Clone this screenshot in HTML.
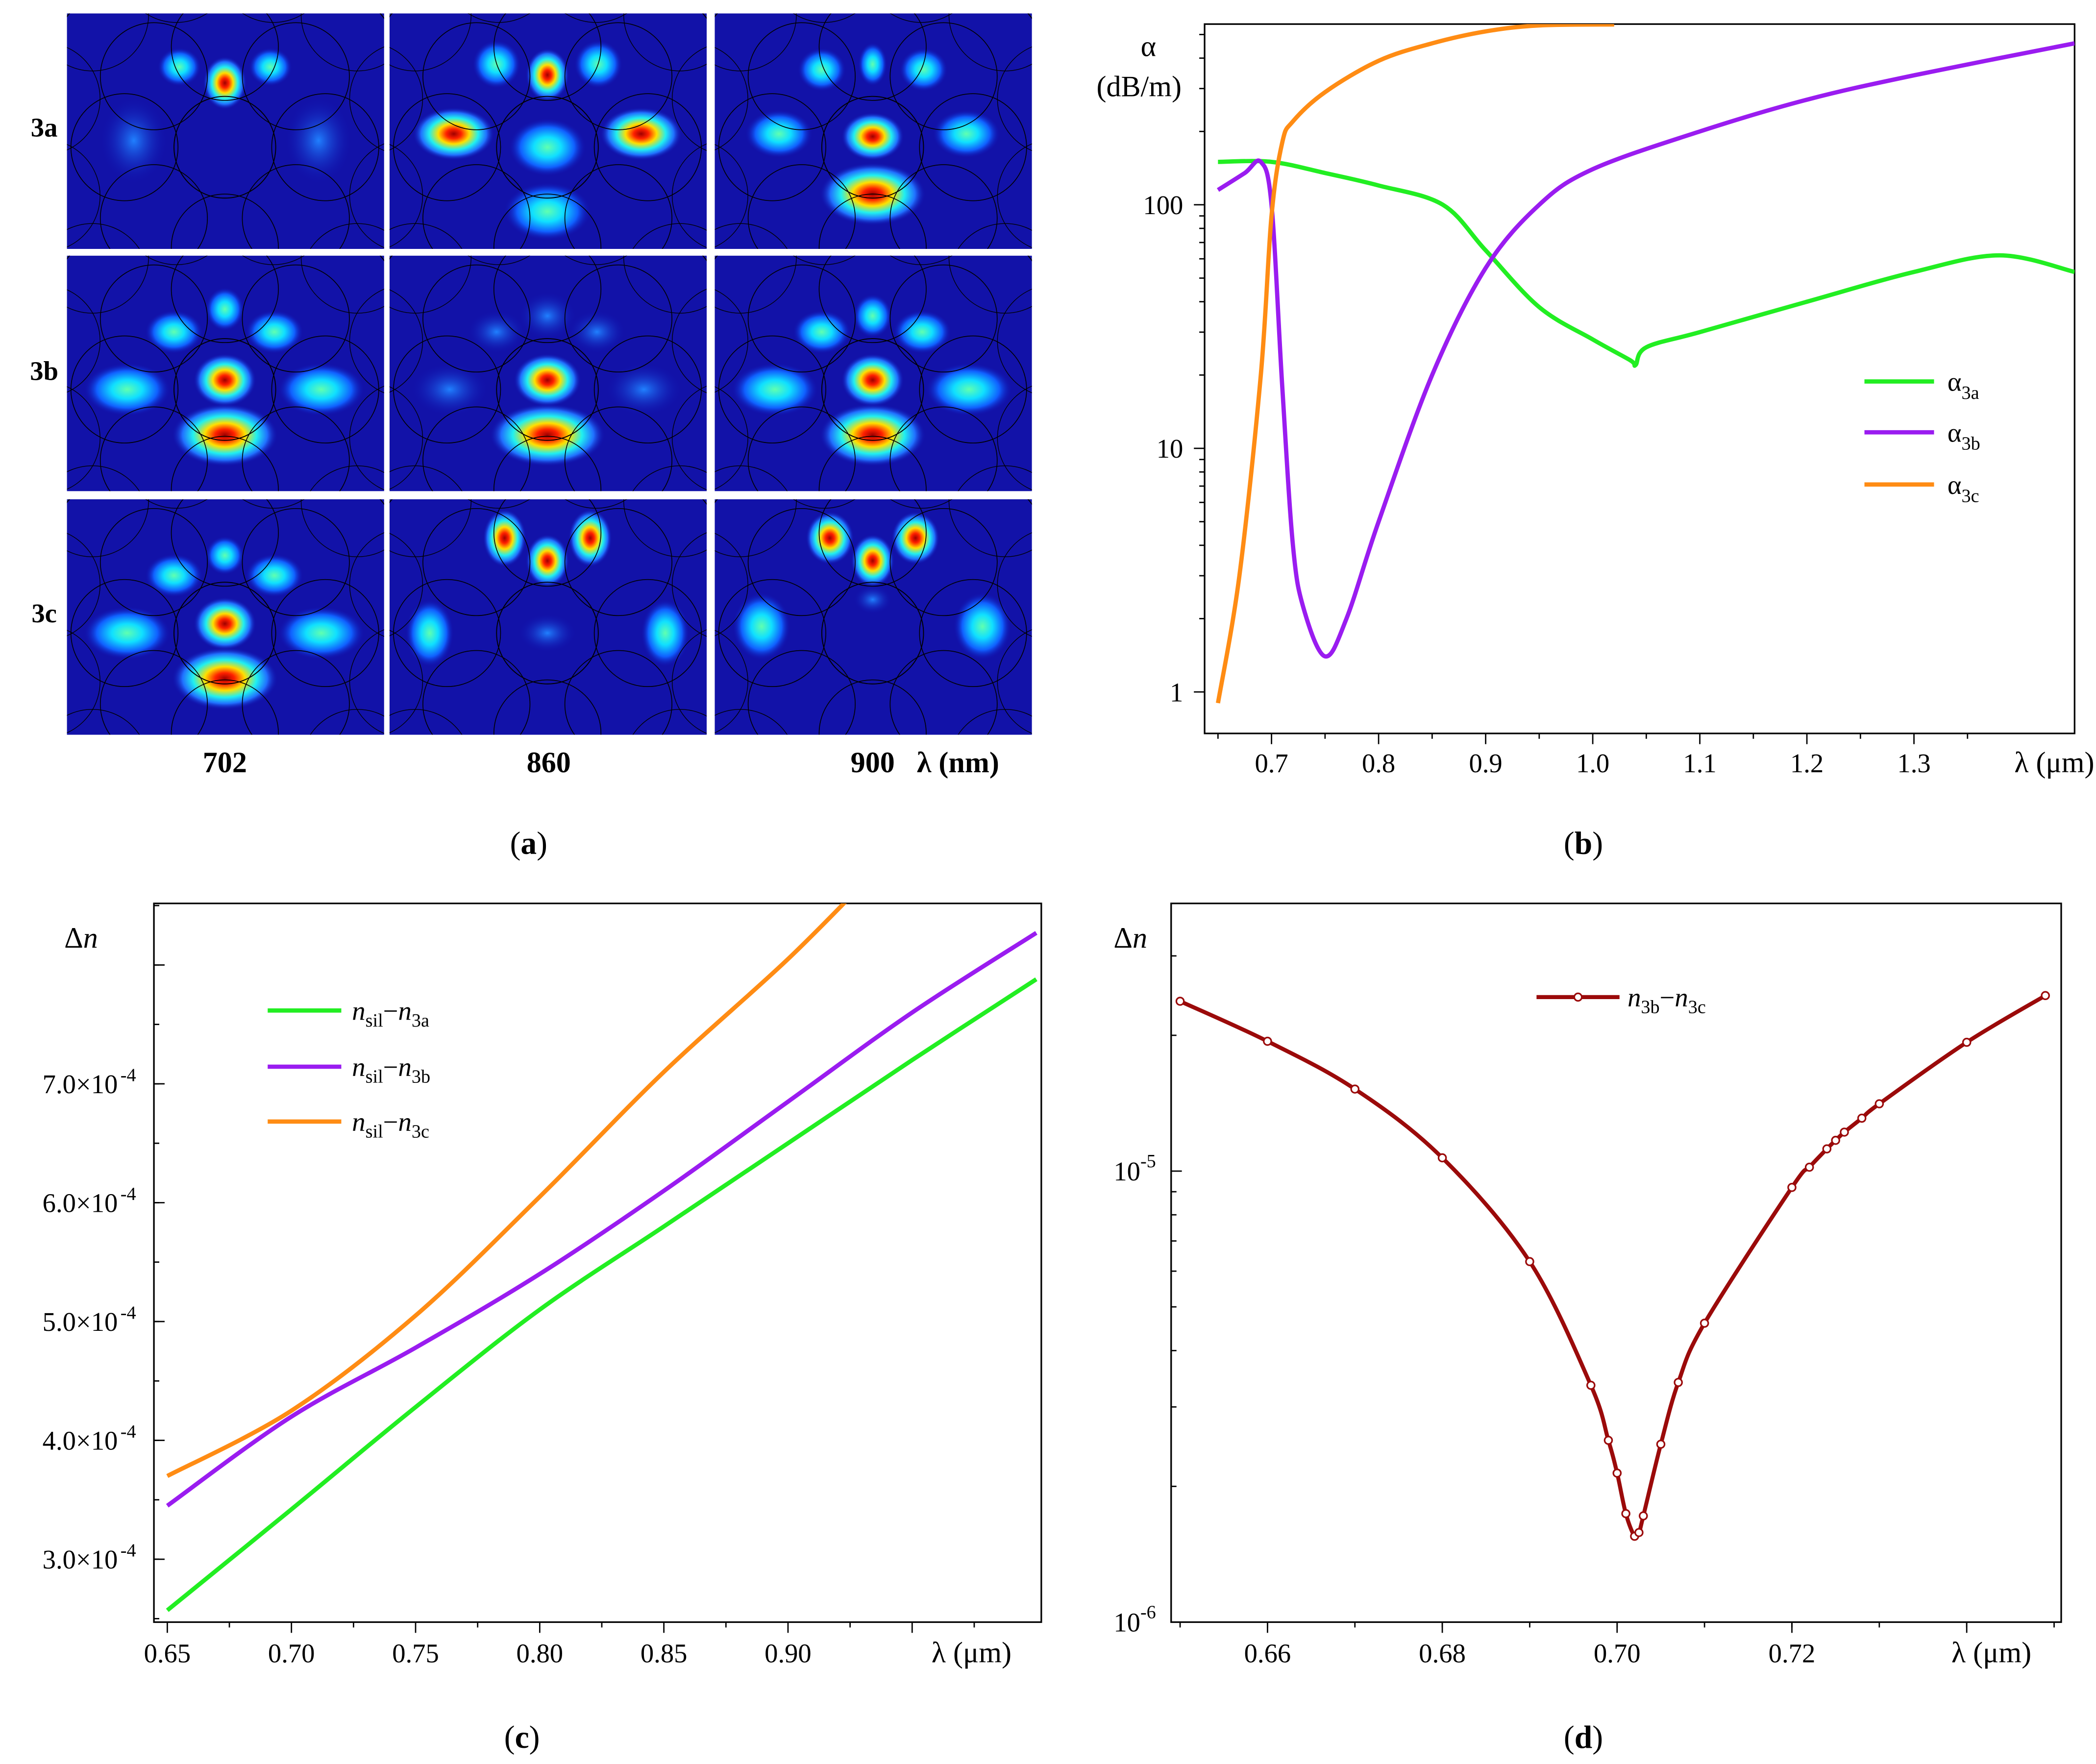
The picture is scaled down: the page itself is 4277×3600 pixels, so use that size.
<!DOCTYPE html>
<html><head><meta charset="utf-8">
<style>
html,body{margin:0;padding:0;background:#fff;}
svg{display:block;font-family:"Liberation Serif",serif;}
</style></head>
<body>
<svg id="fig" width="4277" height="3600" viewBox="0 0 1566 1318" preserveAspectRatio="none" font-family="Liberation Serif, serif" xmlns="http://www.w3.org/2000/svg">
<defs>
<radialGradient id="jet">
<stop offset="0" stop-color="#a00000"/><stop offset="0.18" stop-color="#ff2000"/><stop offset="0.38" stop-color="#ffe000"/><stop offset="0.6" stop-color="#20f0f0"/><stop offset="0.8" stop-color="#2070ff"/><stop offset="1" stop-color="#1010b0" stop-opacity="0"/>
</radialGradient>
<radialGradient id="cyan">
<stop offset="0" stop-color="#60ffb0"/><stop offset="0.35" stop-color="#10e0ff"/><stop offset="0.7" stop-color="#1060ff"/><stop offset="1" stop-color="#1010b0" stop-opacity="0"/>
</radialGradient>
<radialGradient id="dim">
<stop offset="0" stop-color="#2080ff"/><stop offset="1" stop-color="#1010b0" stop-opacity="0"/>
</radialGradient>
</defs>
<g id="pa"></g>
<g id="pb"></g>
<g id="pc"></g>
<g id="pd"></g>
</svg>
<script>
// ---------- Panel b data ----------
const bX_a=[0.65,0.70,0.75,0.80,0.86,0.90,0.95,1.00,1.035,1.04,1.05,1.10,1.20,1.30,1.38,1.45];
const bY_a=[150,150,135,120,100,65,38,28,23,22,26,30,40,53,62,53];
const bX_b=[0.65,0.675,0.69,0.70,0.71,0.72,0.73,0.75,0.77,0.80,0.85,0.90,0.95,1.00,1.10,1.20,1.30,1.45];
const bY_b=[115,135,150,100,18,4,2.2,1.4,2,5,20,55,100,140,200,270,340,460];
const bX_c=[0.65,0.67,0.69,0.70,0.71,0.72,0.75,0.80,0.85,0.90,0.95,1.02];
const bY_c=[0.9,3,20,90,180,220,290,390,460,515,545,550];
const bXTicks=[0.7,0.8,0.9,1.0,1.1,1.2,1.3];
const bXTickLabels=["0.7","0.8","0.9","1.0","1.1","1.2","1.3"];
const bYTicks=[1,10,100];
const bYTickLabels=["1","10","100"];
// ---------- Panel c data ----------
const cX=[0.65,0.70,0.75,0.80,0.85,0.90,0.95,1.00];
const cY_a=[2.57,3.42,4.28,5.1,5.8,6.5,7.2,7.88];
const cY_b=[3.45,4.2,4.78,5.4,6.1,6.85,7.6,8.27];
const cX_c=[0.65,0.70,0.75,0.80,0.85,0.90,0.937];
const cY_c=[3.7,4.25,5.05,6.05,7.1,8.05,8.83];
const cXTicks=[0.65,0.70,0.75,0.80,0.85,0.90];
const cXTickLabels=["0.65","0.70","0.75","0.80","0.85","0.90"];
const cYTicks=[3,4,5,6,7];
const cYTickLabels=["3.0×10","4.0×10","5.0×10","6.0×10","7.0×10"];
// ---------- Panel d data ----------
const dX=[0.65,0.66,0.67,0.68,0.69,0.697,0.699,0.700,0.701,0.702,0.7025,0.703,0.705,0.707,0.71,0.72,0.722,0.724,0.725,0.726,0.728,0.73,0.74,0.749];
const dY=[2.38e-5,1.94e-5,1.52e-5,1.07e-5,6.3e-6,3.35e-6,2.53e-6,2.14e-6,1.74e-6,1.55e-6,1.58e-6,1.72e-6,2.48e-6,3.4e-6,4.6e-6,9.2e-6,1.02e-5,1.12e-5,1.17e-5,1.22e-5,1.31e-5,1.41e-5,1.93e-5,2.45e-5];
const dXTicks=[0.66,0.68,0.70,0.72];
const dXTickLabels=["0.66","0.68","0.70","0.72"];

const NS="http://www.w3.org/2000/svg";
function mk(parent,tag,attrs,text){const e=document.createElementNS(NS,tag);for(const k in attrs)e.setAttribute(k,attrs[k]);if(tag==='text')e.setAttribute('font-family','Liberation Serif, serif');if(text!==undefined)e.textContent=text;parent.appendChild(e);return e;}
function smooth(pts){let d="M"+pts[0][0].toFixed(2)+","+pts[0][1].toFixed(2);for(let i=0;i<pts.length-1;i++){const p0=pts[i-1]||pts[i],p1=pts[i],p2=pts[i+1],p3=pts[i+2]||p2;const t=6;const c1=[p1[0]+(p2[0]-p0[0])/t,p1[1]+(p2[1]-p0[1])/t],c2=[p2[0]-(p3[0]-p1[0])/t,p2[1]-(p3[1]-p1[1])/t];d+=" C"+c1.map(v=>v.toFixed(2))+" "+c2.map(v=>v.toFixed(2))+" "+p2[0].toFixed(2)+","+p2[1].toFixed(2);}return d;}

// ================= Panel a =================
const pa=document.getElementById('pa');
const cols=[50,291,534], rows=[10,191,373], cw=237, ch=176;
const blobs=[
 [[[118,52,9,11,'jet'],[84,40,9,8,'cyan'],[152,40,9,8,'cyan'],[50,95,14,18,'dim'],[188,95,14,18,'dim']],
  [[118,46,9,11,'jet'],[80,38,10,10,'cyan'],[156,38,10,10,'cyan'],[48,90,17,11,'jet'],[188,90,17,11,'jet'],[118,100,16,12,'cyan'],[118,148,18,12,'cyan']],
  [[118,38,6,9,'cyan'],[80,42,10,9,'cyan'],[156,42,10,9,'cyan'],[48,90,14,10,'cyan'],[188,90,14,10,'cyan'],[118,92,13,10,'jet'],[118,135,22,13,'jet']]],
 [[[118,40,8,9,'cyan'],[80,57,12,9,'cyan'],[155,57,12,9,'cyan'],[45,100,18,11,'cyan'],[190,100,18,11,'cyan'],[118,93,13,11,'jet'],[118,134,22,13,'jet']],
  [[118,45,12,10,'dim'],[80,57,12,9,'dim'],[155,57,12,9,'dim'],[45,100,16,11,'dim'],[190,100,16,11,'dim'],[118,93,14,11,'jet'],[118,134,24,13,'jet']],
  [[118,45,8,9,'cyan'],[80,57,12,9,'cyan'],[155,57,12,9,'cyan'],[45,100,18,11,'cyan'],[190,100,18,11,'cyan'],[118,93,13,11,'jet'],[118,134,22,13,'jet']]],
 [[[118,42,8,8,'cyan'],[80,57,12,9,'cyan'],[155,57,12,9,'cyan'],[45,100,18,11,'cyan'],[190,100,18,11,'cyan'],[118,93,13,11,'jet'],[118,134,22,13,'jet']],
  [[86,29,9,12,'jet'],[150,29,9,12,'jet'],[118,46,9,11,'jet'],[30,100,10,14,'cyan'],[206,100,10,14,'cyan'],[118,100,12,8,'dim']],
  [[86,29,10,11,'jet'],[150,29,10,11,'jet'],[118,46,9,11,'jet'],[35,95,12,14,'cyan'],[200,95,12,14,'cyan'],[118,75,8,6,'dim']]]
];
for(let r=0;r<3;r++)for(let c=0;c<3;c++){
 const x0=cols[c],y0=rows[r];
 const g=mk(pa,'g',{});
 
 
 const cp=mk(pa,'clipPath',{id:'cp'+r+c});mk(cp,'rect',{x:x0,y:y0,width:cw,height:ch});
 g.setAttribute('clip-path','url(#cp'+r+c+')');
 mk(g,'rect',{x:x0,y:y0,width:cw,height:ch,fill:'#1212a8'});
 for(const b of blobs[r][c]) mk(g,'ellipse',{cx:x0+b[0],cy:y0+b[1],rx:b[2]*1.8,ry:b[3]*1.8,fill:'url(#'+b[4]+')'});
 const cx=x0+118, cy=y0+95;
 mk(g,'circle',{cx:cx,cy:cy,r:150,fill:'none',stroke:'#000','stroke-width':0.7});
 mk(g,'circle',{cx:cx,cy:cy+5,r:38,fill:'none',stroke:'#000','stroke-width':0.7});
 for(let k=0;k<8;k++){const a=k*Math.PI/4-Math.PI/2;mk(g,'circle',{cx:cx+75*Math.cos(a),cy:cy+5+75*Math.sin(a),r:40,fill:'none',stroke:'#000','stroke-width':0.6});}
 for(let k=0;k<12;k++){const a=k*Math.PI/6-Math.PI/2+Math.PI/12;mk(g,'circle',{cx:cx+140*Math.cos(a),cy:cy+5+140*Math.sin(a),r:42,fill:'none',stroke:'#000','stroke-width':0.5});}
}
[['3a',95],['3b',277],['3c',458]].forEach(([t,y])=>{const e=mk(pa,'text',{x:33,y:y+7,'font-size':20,'font-weight':'bold','text-anchor':'middle'},t);});
[['702',168],['860',410],['900',652]].forEach(([t,x])=>{const e=mk(pa,'text',{x:x,y:577,'font-size':22,'font-weight':'bold','text-anchor':'middle'},t);});
{const e=mk(pa,'text',{x:685,y:577,'font-size':22,'font-weight':'bold'},'λ (nm)');}

function panelLabel(p,x,y,l){const e=mk(p,'text',{x:x,y:y,'font-size':24,'text-anchor':'middle'});e.innerHTML='(<tspan font-weight="bold">'+l+'</tspan>)';}
panelLabel(pa,395,638,'a');

// ================= Panel b =================
const pb=document.getElementById('pb');
const bxs=v=>950+(v-0.7)*800, bys=v=>517-182*Math.log10(v);
{const e=mk(pb,'rect',{x:900,y:18,width:650,height:530,fill:'none',stroke:'#000','stroke-width':1.2});}
bXTicks.forEach((v,i)=>{mk(pb,'line',{x1:bxs(v),x2:bxs(v),y1:548,y2:556,stroke:'#000'});const e=mk(pb,'text',{x:bxs(v),y:577,'font-size':20,'text-anchor':'middle'},bXTickLabels[i]);});
for(let v=0.65;v<1.45;v+=0.1)mk(pb,'line',{x1:bxs(v),x2:bxs(v),y1:548,y2:552,stroke:'#000'});
bYTicks.forEach((v,i)=>{mk(pb,'line',{x1:892,x2:900,y1:bys(v),y2:bys(v),stroke:'#000'});const e=mk(pb,'text',{x:884,y:bys(v)+7,'font-size':20,'text-anchor':'end'},bYTickLabels[i]);});
for(let d=0;d<3;d++)for(let m=2;m<10;m++){const v=m*Math.pow(10,d);if(bys(v)>18)mk(pb,'line',{x1:896,x2:900,y1:bys(v),y2:bys(v),stroke:'#000'});}
{const e=mk(pb,'text',{x:1505,y:577,'font-size':22},'λ (μm)');}
{const e=mk(pb,'text',{x:858,y:42,'font-size':22,'text-anchor':'middle'},'α');}
{const e=mk(pb,'text',{x:851,y:72,'font-size':22,'text-anchor':'middle'},'(dB/m)');}
const cpB=mk(pb,'clipPath',{id:'cpB'});mk(cpB,'rect',{x:900,y:18,width:650,height:530});
[[bX_a,bY_a,'#22ee22','alpha-3a'],[bX_b,bY_b,'#9a1cf0','alpha-3b'],[bX_c,bY_c,'#ff8c14','alpha-3c']].forEach(([xs,ys,col,n])=>{
 const e=mk(pb,'path',{d:smooth(xs.map((x,i)=>[bxs(x),bys(ys[i])])),fill:'none',stroke:col,'stroke-width':3.2,'clip-path':'url(#cpB)'});
 });
[['#22ee22','3a',285],['#9a1cf0','3b',323],['#ff8c14','3c',362]].forEach(([col,s,y])=>{
 const g=mk(pb,'g',{});
 mk(g,'line',{x1:1393,x2:1445,y1:y,y2:y,stroke:col,'stroke-width':3.2});
 const t=mk(g,'text',{x:1455,y:y+7,'font-size':20});t.innerHTML='α<tspan font-size="14" dy="6">'+s+'</tspan>';});
panelLabel(pb,1183,638,'b');

// ================= Panel c =================
const pc=document.getElementById('pc');
const cxs=v=>125+(v-0.65)*1855, cys=v=>1165-(v-3)*88.8;
{const e=mk(pc,'rect',{x:115,y:675,width:663,height:537,fill:'none',stroke:'#000','stroke-width':1.2});}
cXTicks.forEach((v,i)=>{mk(pc,'line',{x1:cxs(v),x2:cxs(v),y1:1212,y2:1220,stroke:'#000'});const e=mk(pc,'text',{x:cxs(v),y:1242,'font-size':20,'text-anchor':'middle'},cXTickLabels[i]);});
for(let v=0.675;v<1.0;v+=0.05)mk(pc,'line',{x1:cxs(v),x2:cxs(v),y1:1212,y2:1216,stroke:'#000'});
mk(pc,'line',{x1:cxs(0.95),x2:cxs(0.95),y1:1212,y2:1220,stroke:'#000'});
cYTicks.forEach((v,i)=>{mk(pc,'line',{x1:115,x2:123,y1:cys(v),y2:cys(v),stroke:'#000'});const e=mk(pc,'text',{x:88,y:cys(v)+7,'font-size':20,'text-anchor':'end'},cYTickLabels[i]);const s=mk(pc,'text',{x:90,y:cys(v)-2,'font-size':14},'-4');});
mk(pc,'line',{x1:115,x2:123,y1:cys(8),y2:cys(8),stroke:'#000'});
for(let v=2.5;v<8.8;v+=0.5)mk(pc,'line',{x1:115,x2:119,y1:cys(v),y2:cys(v),stroke:'#000'});
{const e=mk(pc,'text',{x:696,y:1242,'font-size':22},'λ (μm)');}
{const e=mk(pc,'text',{x:48,y:708,'font-size':22});e.innerHTML='Δ<tspan font-style="italic">n</tspan>';}
const cpC=mk(pc,'clipPath',{id:'cpC'});mk(cpC,'rect',{x:115,y:675,width:663,height:537});
[[cX,cY_a,'#22ee22','n-3a'],[cX,cY_b,'#9a1cf0','n-3b'],[cX_c,cY_c,'#ff8c14','n-3c']].forEach(([xs,ys,col,n])=>{
 const e=mk(pc,'path',{d:smooth(xs.map((x,i)=>[cxs(x),cys(ys[i])])),fill:'none',stroke:col,'stroke-width':3.2,'clip-path':'url(#cpC)'});
 });
[['#22ee22','3a',755],['#9a1cf0','3b',797],['#ff8c14','3c',838]].forEach(([col,s,y])=>{
 const g=mk(pc,'g',{});
 mk(g,'line',{x1:200,x2:255,y1:y,y2:y,stroke:col,'stroke-width':3.2});
 const t=mk(g,'text',{x:263,y:y+7,'font-size':20});t.innerHTML='<tspan font-style="italic">n</tspan><tspan font-size="14" dy="5">sil</tspan><tspan dy="-5">−</tspan><tspan font-style="italic">n</tspan><tspan font-size="14" dy="5">'+s+'</tspan>';});
panelLabel(pc,390,1306,'c');

// ================= Panel d =================
const pd=document.getElementById('pd');
const dxs=v=>947+(v-0.66)*6530, dys=v=>875-337*(Math.log10(v)+5);
{const e=mk(pd,'rect',{x:875,y:675,width:665,height:537,fill:'none',stroke:'#000','stroke-width':1.2});}
dXTicks.forEach((v,i)=>{mk(pd,'line',{x1:dxs(v),x2:dxs(v),y1:1212,y2:1220,stroke:'#000'});const e=mk(pd,'text',{x:dxs(v),y:1242,'font-size':20,'text-anchor':'middle'},dXTickLabels[i]);});
for(let v=0.65;v<0.751;v+=0.01)mk(pd,'line',{x1:dxs(v),x2:dxs(v),y1:1212,y2:1216,stroke:'#000'});
mk(pd,'line',{x1:dxs(0.74),x2:dxs(0.74),y1:1212,y2:1220,stroke:'#000'});
[[1e-5,'10','-5'],[1e-6,'10','-6']].forEach(([v,b,ex])=>{mk(pd,'line',{x1:875,x2:883,y1:dys(v),y2:dys(v),stroke:'#000'});const e=mk(pd,'text',{x:852,y:dys(v)+7,'font-size':20,'text-anchor':'end'},b);const s=mk(pd,'text',{x:852,y:dys(v)-3,'font-size':14},ex);});
for(let d=-6;d<=-5;d++)for(let m=2;m<10;m++){const v=m*Math.pow(10,d);if(dys(v)>675)mk(pd,'line',{x1:875,x2:879,y1:dys(v),y2:dys(v),stroke:'#000'});}
{const e=mk(pd,'text',{x:1458,y:1242,'font-size':22},'λ (μm)');}
{const e=mk(pd,'text',{x:832,y:708,'font-size':22});e.innerHTML='Δ<tspan font-style="italic">n</tspan>';}
{const e=mk(pd,'path',{d:smooth(dX.map((x,i)=>[dxs(x),dys(dY[i])])),fill:'none',stroke:'#9b0a0a','stroke-width':3});}
dX.forEach((x,i)=>{const e=mk(pd,'circle',{cx:dxs(x),cy:dys(dY[i]),r:2.8,fill:'#fff',stroke:'#9b0a0a','stroke-width':1.2});});
{const g=mk(pd,'g',{});
 mk(g,'line',{x1:1148,x2:1210,y1:745,y2:745,stroke:'#9b0a0a','stroke-width':3});
 mk(g,'circle',{cx:1179,cy:745,r:2.8,fill:'#fff',stroke:'#9b0a0a','stroke-width':1.2});
 const t=mk(g,'text',{x:1216,y:752,'font-size':20});t.innerHTML='<tspan font-style="italic">n</tspan><tspan font-size="14" dy="5">3b</tspan><tspan dy="-5">−</tspan><tspan font-style="italic">n</tspan><tspan font-size="14" dy="5">3c</tspan>';}
panelLabel(pd,1183,1306,'d');
</script>
</body></html>
